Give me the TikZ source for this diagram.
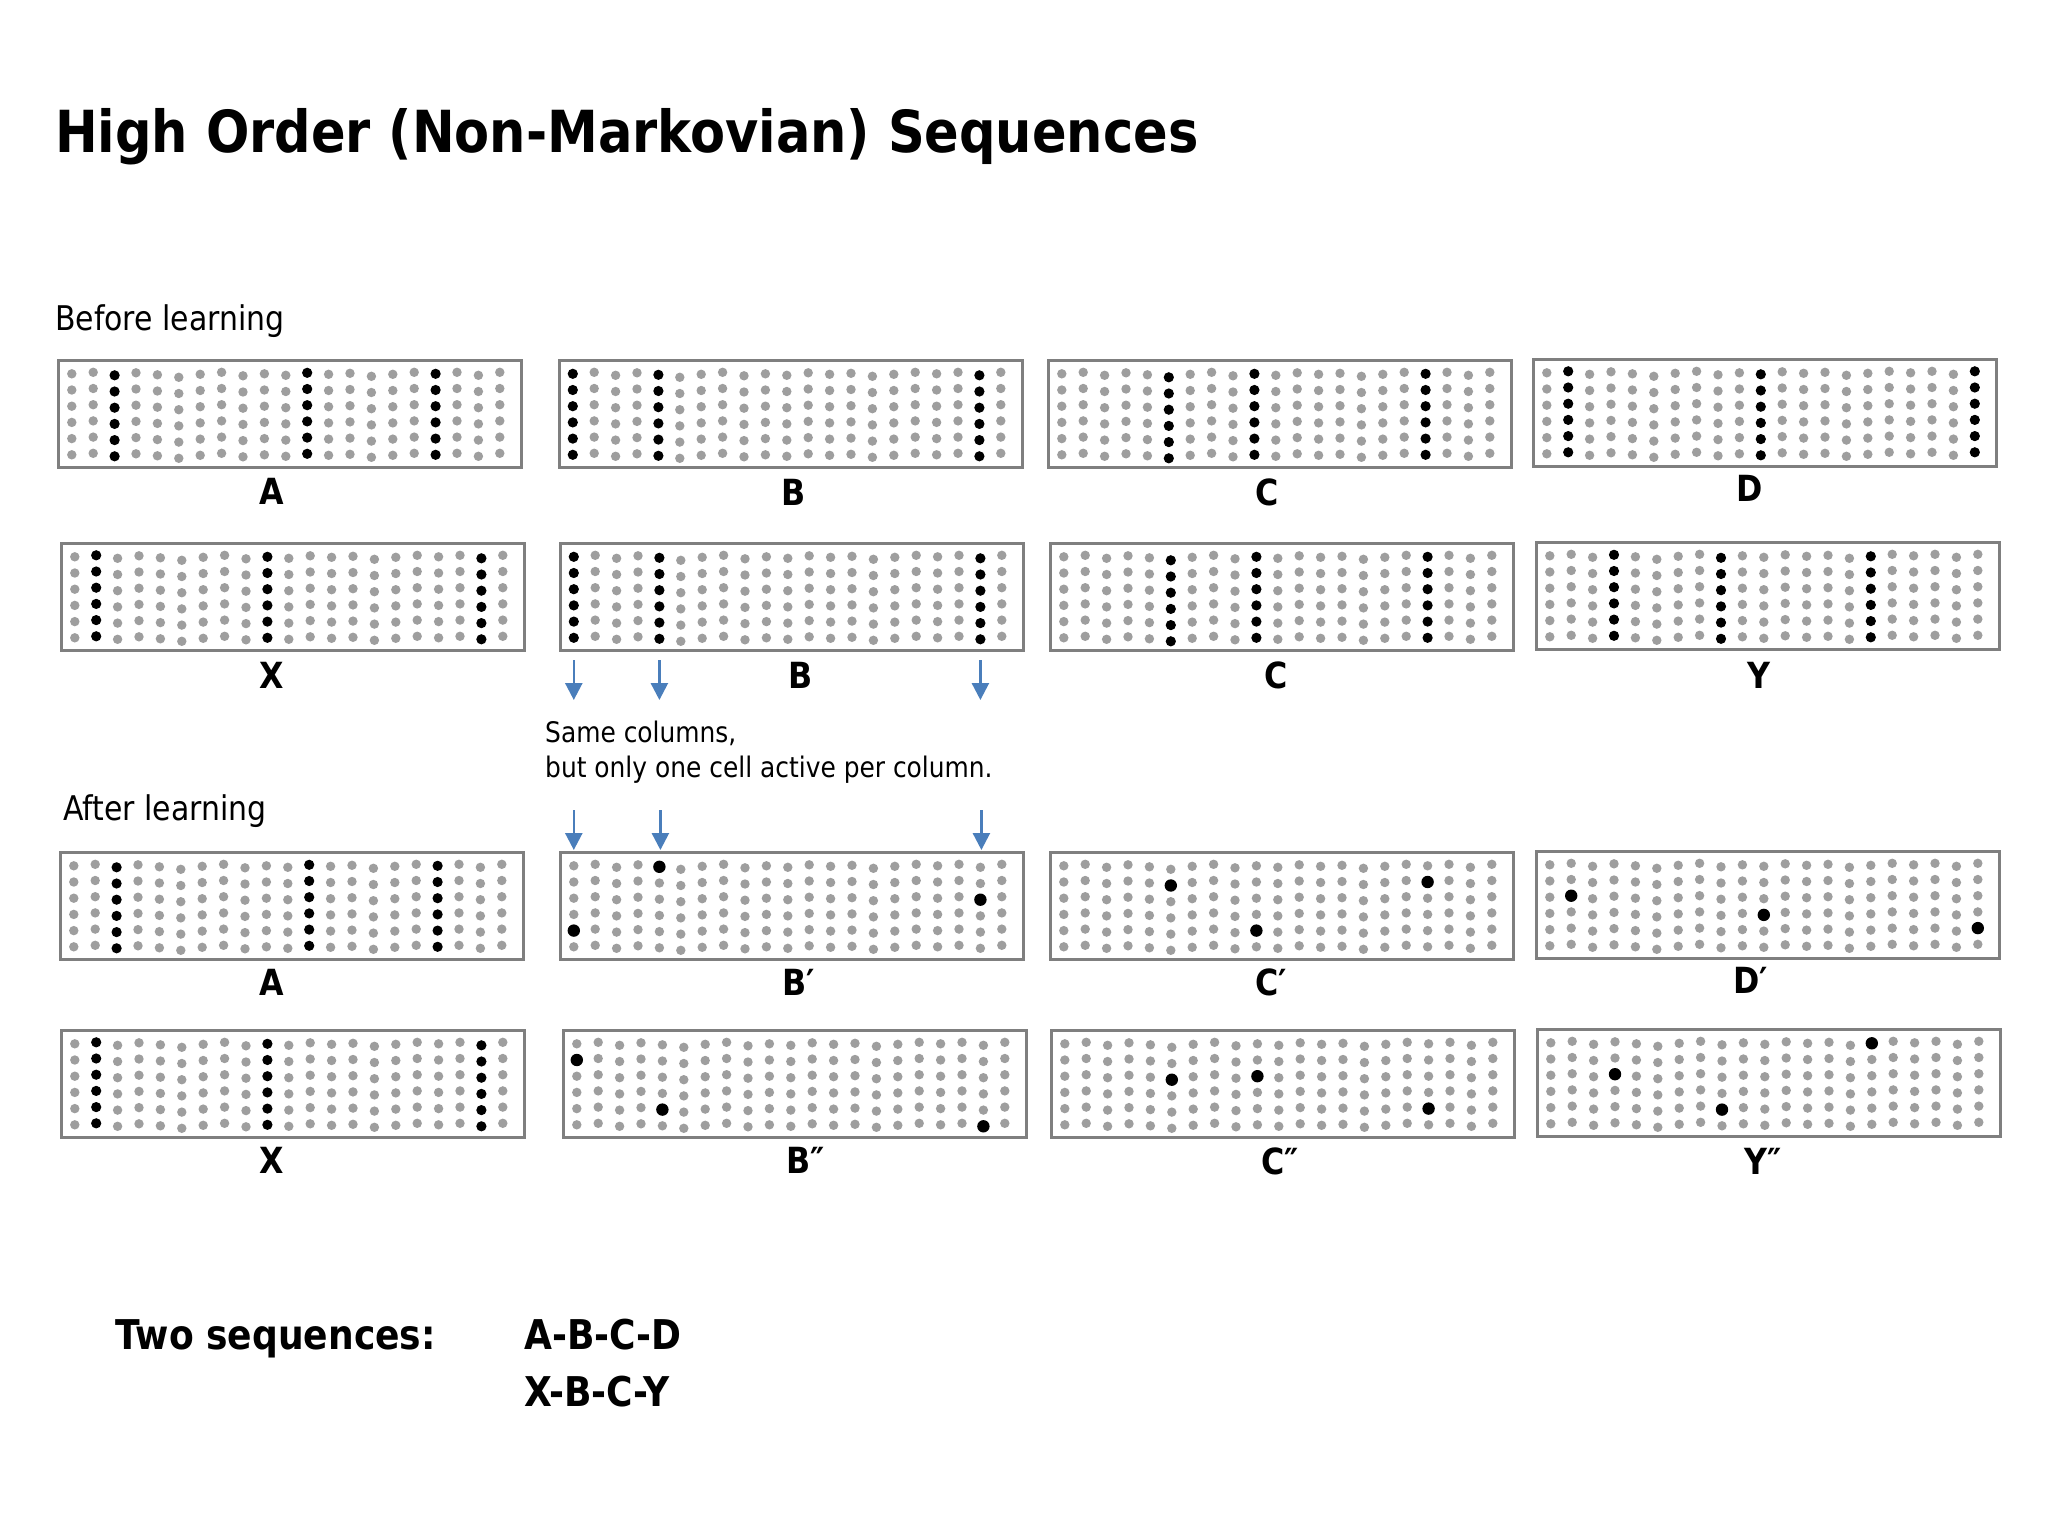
\documentclass[tikz,border=0pt]{standalone}
\usepackage{fontspec}
\setmainfont{DejaVu Sans}[FakeStretch=0.88]
\usetikzlibrary{arrows.meta}
\definecolor{dotgray}{HTML}{9E9E9E}
\definecolor{framegray}{HTML}{7F7F7F}
\definecolor{arrowblue}{HTML}{4A7EBB}
\def\jitarr{{0,-1.5,1.5,-1,1,3.5,0.5,-1.5,2,0,1.5,-1,0.5,-0.5,2.5,0.5,-1.5,0,-1.5,1.5,-1.5}}
\tikzset{
  cellframe/.style={draw=framegray, line width=2.5pt, inner sep=0pt, minimum width=463pt, minimum height=107pt, anchor=north west},
  boxlabel/.style={font=\bfseries\fontsize{36}{40}\selectfont, inner sep=0pt, anchor=base},
  plaintext/.style={inner sep=0pt, anchor=base west},
  bluearrow/.style={draw=arrowblue, line width=2.6pt, -{Triangle[width=17pt,length=17pt]}},
}
\newcommand\cellbox[3]{%
  \node[cellframe] (#1) at (#2,#3) {};
  \foreach \c in {1,...,21}{%
    \pgfmathsetmacro\jj{\jitarr[\c-1]}%
    \foreach \r in {0,...,5}{%
      \fill[dotgray] ({#2+14.8+21.4*(\c-1)},{#3+14.8+16.2*\r+\jj}) circle (4.7pt);
    }}}
\newcommand\colact[3]{%
  \foreach \c in {#3}{%
    \pgfmathsetmacro\jj{\jitarr[\c-1]}%
    \foreach \r in {0,...,5}{%
      \fill[black] ({#1+14.8+21.4*(\c-1)},{#2+14.8+16.2*\r+\jj}) circle (5.1pt);
    }}}
\newcommand\oneact[3]{%
  \foreach \c/\r in {#3}{%
    \pgfmathsetmacro\jj{\jitarr[\c-1]}%
    \fill[black] ({#1+14.8+21.4*(\c-1)},{#2+14.8+16.2*(\r-1)+\jj}) circle (6.2pt);
  }}
\begin{document}
\begin{tikzpicture}[x=1pt,y=-1pt]
\useasboundingbox (0,0) rectangle (2048,1536);
\fill[white] (0,0) rectangle (2048,1536);

\node[plaintext, font=\bfseries\fontsize{58}{62}\selectfont] (title) at (55,153) {High Order (Non-Markovian) Sequences};
\node[plaintext, font=\fontsize{34}{38}\selectfont] (before) at (55,330) {Before learning};
\node[plaintext, font=\fontsize{34}{38}\selectfont] (after) at (63,820) {After learning};
\node[plaintext, font=\fontsize{28.3}{32}\selectfont] (note1) at (545,742) {Same columns,};
\node[plaintext, font=\fontsize{28.3}{32}\selectfont] (note2) at (545,777) {but only one cell active per column.};

% row 1
\cellbox{rA}{57}{359}   \colact{57}{359}{3,12,18}
\cellbox{rB}{558}{359}  \colact{558}{359}{1,5,20}
\cellbox{rC}{1047}{359} \colact{1047}{359}{6,10,18}
\cellbox{rD}{1532}{358} \colact{1532}{358}{2,11,21}
\node[boxlabel] (lA1) at (272,504) {A};
\node[boxlabel] (lB1) at (794,505) {B};
\node[boxlabel] (lC1) at (1267,505) {C};
\node[boxlabel] (lD1) at (1750,501) {D};

% row 2
\cellbox{sX}{60}{542}   \colact{60}{542}{2,10,20}
\cellbox{sB}{559}{542}  \colact{559}{542}{1,5,20}
\cellbox{sC}{1049}{542} \colact{1049}{542}{6,10,18}
\cellbox{sY}{1535}{541} \colact{1535}{541}{4,9,16}
\node[boxlabel] (lX2) at (272,688) {X};
\node[boxlabel] (lB2) at (801,688) {B};
\node[boxlabel] (lC2) at (1276,688) {C};
\node[boxlabel] (lY2) at (1759,688) {Y};

% row 3
\cellbox{tA}{59}{851}   \colact{59}{851}{3,12,18}
\cellbox{tB}{559}{851}  \oneact{559}{851}{1/5,5/1,20/3}
\cellbox{tC}{1049}{851} \oneact{1049}{851}{6/2,10/5,18/2}
\cellbox{tD}{1535}{850} \oneact{1535}{850}{2/3,11/4,21/5}
\node[boxlabel] (lA3) at (272,995) {A};
\node[boxlabel] (lB3) at (799,995) {B′};
\node[boxlabel] (lC3) at (1271,995) {C′};
\node[boxlabel] (lD3) at (1751,993) {D′};

% row 4
\cellbox{uX}{60}{1029}   \colact{60}{1029}{2,10,20}
\cellbox{uB}{562}{1029}  \oneact{562}{1029}{1/2,5/5,20/6}
\cellbox{uC}{1050}{1029} \oneact{1050}{1029}{6/3,10/3,18/5}
\cellbox{uY}{1536}{1028} \oneact{1536}{1028}{4/3,9/5,16/1}
\node[boxlabel] (lX4) at (272,1173) {X};
\node[boxlabel] (lB4) at (806,1173) {B″};
\node[boxlabel] (lC4) at (1280,1174) {C″};
\node[boxlabel] (lY4) at (1763,1174) {Y″};

% arrows
\coordinate (a1s) at (573.8,660); \coordinate (a1e) at (573.8,700);
\coordinate (a2s) at (659.4,660); \coordinate (a2e) at (659.4,700);
\coordinate (a3s) at (980.4,660); \coordinate (a3e) at (980.4,700);
\coordinate (b1s) at (573.8,810); \coordinate (b1e) at (573.8,850);
\coordinate (b2s) at (660.4,810); \coordinate (b2e) at (660.4,850);
\coordinate (b3s) at (981.4,810); \coordinate (b3e) at (981.4,850);
\draw[bluearrow] (a1s) -- (a1e);
\draw[bluearrow] (a2s) -- (a2e);
\draw[bluearrow] (a3s) -- (a3e);
\draw[bluearrow] (b1s) -- (b1e);
\draw[bluearrow] (b2s) -- (b2e);
\draw[bluearrow] (b3s) -- (b3e);

% sequences
\node[plaintext, font=\bfseries\fontsize{41}{45}\selectfont] (twoseq) at (115,1349) {Two sequences:};
\node[plaintext, font=\bfseries\fontsize{41}{45}\selectfont] (seq1) at (524,1349) {A-B-C-D};
\node[plaintext, font=\bfseries\fontsize{41}{45}\selectfont] (seq2) at (524,1406) {X-B-C-Y};
\end{tikzpicture}
\end{document}
